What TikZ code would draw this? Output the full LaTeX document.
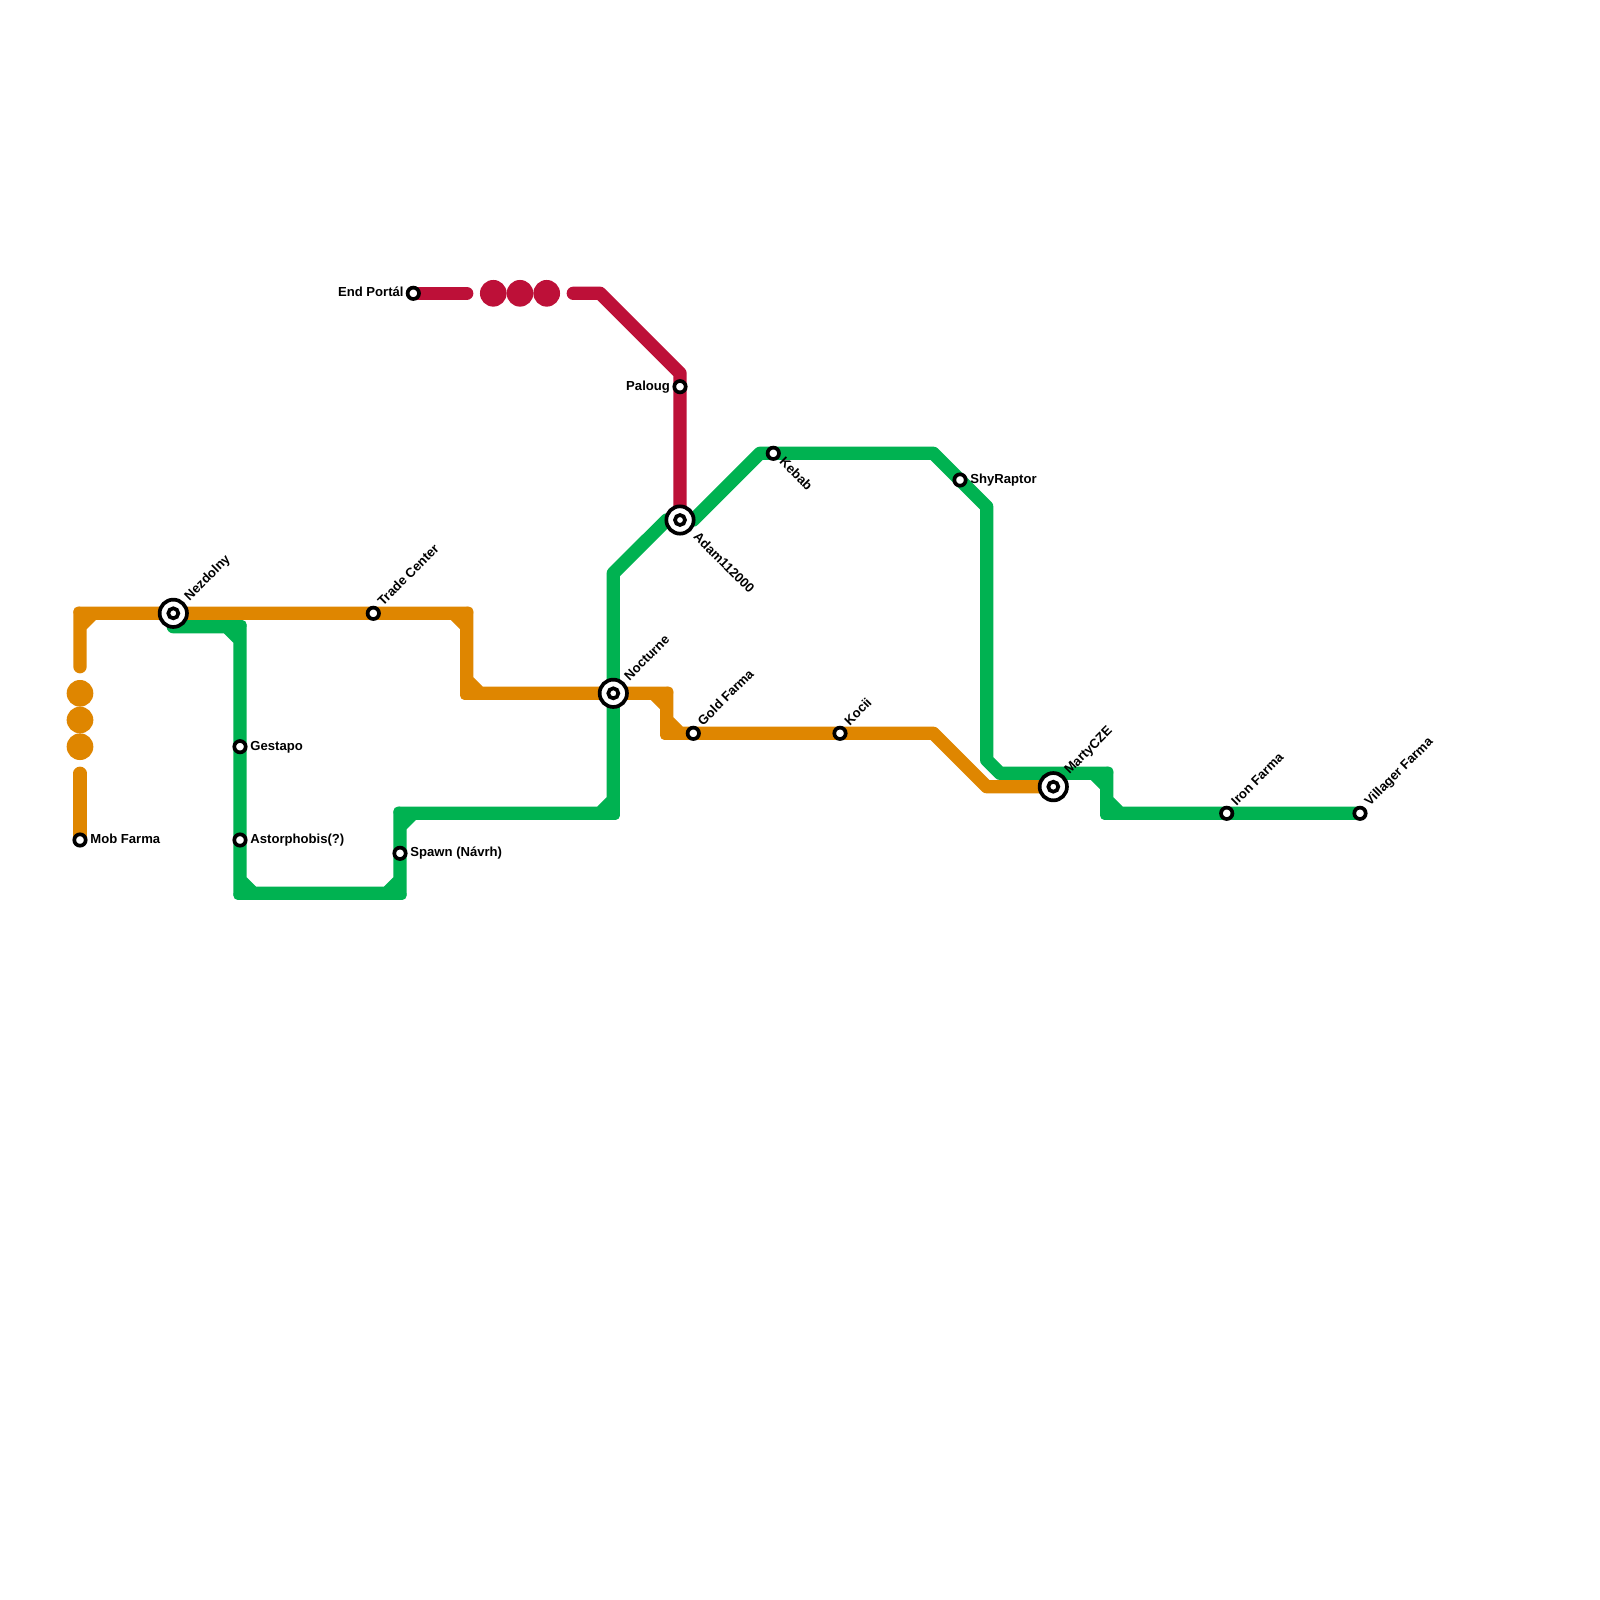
\documentclass[tikz,border=0pt]{standalone}
\usepackage{fontspec}
\setmainfont{Liberation Sans}
\usetikzlibrary{backgrounds}
\definecolor{orangeline}{HTML}{DF8600}
\definecolor{greenline}{HTML}{00B251}
\definecolor{redline}{HTML}{BD1038}
\tikzset{
  metro/.style={line width=6.667pt,line cap=round,line join=round},
  stn/.style={circle,draw=black,fill=white,line width=1.85pt,inner sep=0pt,outer sep=0pt,minimum size=5.7pt},
  ichg/.style={circle,draw=black,fill=white,line width=1.85pt,inner sep=0pt,outer sep=0pt,minimum size=13.67pt},
  ichgin/.style={circle,draw=black,fill=white,line width=1.85pt,inner sep=0pt,outer sep=0pt,minimum size=5pt},
  dot/.style={circle,inner sep=0pt,outer sep=0pt,minimum size=13.33pt},
  lab/.style={font=\bfseries\fontsize{6.55}{8}\selectfont,inner sep=0pt,text=black},
  labR/.style={lab,anchor=base west},
  labL/.style={lab,anchor=base east},
  labU/.style={lab,anchor=base west,rotate=45},
  labD/.style={lab,anchor=base west,rotate=-45}
}
% corner fill: colour, x, y, sx, sy (outward direction)
% a short rounded patch on the outer corner and a triangle on the inner one
\newcommand{\cornerfill}[5]{%
  \fill[#1] (#2,{#3+#5*6.667}) -- ({#2+#4*2.17},{#3+#5*6.667}) .. controls ({#2+#4*4.65},{#3+#5*6.667}) and ({#2+#4*6.667},{#3+#5*4.65}) .. ({#2+#4*6.667},{#3+#5*2.17}) -- ({#2+#4*6.667},#3) -- (#2,#3) -- cycle;
  \fill[#1] (#2,#3) -- ({#2-#4*6.667-#4*9.3},{#3-#5*6.667+#5*1}) -- ({#2-#4*6.667-#4*9.3},{#3-#5*6.667}) -- ({#2-#4*6.667},{#3-#5*6.667-#5*9.3}) -- ({#2-#4*6.667+#4*1},{#3-#5*6.667-#5*9.3}) -- cycle;}
\begin{document}
\begin{tikzpicture}[x=0.5pt,y=-0.5pt]
\useasboundingbox (0,0) rectangle (1600,1600);
% stations
\node[stn] (mob) at (80,840) {};
\node[stn] (trade) at (373.3,613.3) {};
\node[stn] (gestapo) at (240,746.7) {};
\node[stn] (astor) at (240,840) {};
\node[stn] (spawn) at (400,853.3) {};
\node[stn] (endp) at (413.3,293.3) {};
\node[stn] (paloug) at (680,386.7) {};
\node[stn] (kebab) at (773.3,453.3) {};
\node[stn] (shy) at (960,480) {};
\node[stn] (gold) at (693.3,733.3) {};
\node[stn] (kocii) at (840,733.3) {};
\node[stn] (iron) at (1226.7,813.3) {};
\node[stn] (villager) at (1360,813.3) {};
\node[ichg] (nezdolny) at (173.3,613.3) {};
\node[ichgin] (nezdolnyin) at (nezdolny) {};
\node[ichg] (nocturne) at (613.3,693.3) {};
\node[ichgin] (nocturnein) at (nocturne) {};
\node[ichg] (adam) at (680,520) {};
\node[ichgin] (adamin) at (adam) {};
\node[ichg] (marty) at (1053.3,786.7) {};
\node[ichgin] (martyin) at (marty) {};
% dots of the broken lines
\node[dot,fill=orangeline] (od1) at (80,693.3) {};
\node[dot,fill=orangeline] (od2) at (80,720) {};
\node[dot,fill=orangeline] (od3) at (80,746.7) {};
\node[dot,fill=redline] (rd1) at (493.3,293.3) {};
\node[dot,fill=redline] (rd2) at (520,293.3) {};
\node[dot,fill=redline] (rd3) at (546.7,293.3) {};
% labels
\node[labR] (lmob) at (90,843.5) {Mob Farma};
\node[labR] (lgestapo) at (250,750.2) {Gestapo};
\node[labR] (lastor) at (250,843.5) {Astorphobis(?)};
\node[labR] (lspawn) at (410,856.8) {Spawn (Návrh)};
\node[labR] (lshy) at (970,483.5) {ShyRaptor};
\node[labL] (lendp) at (404,296.8) {End Portál};
\node[labL] (lpaloug) at (670.3,390.2) {Paloug};
\node[labU] (lnez) at (189.3,601.6) {Nezdolny};
\node[labU] (ltrade) at (382.8,606.6) {Trade Center};
\node[labU] (lnoc) at (629.3,681.6) {Nocturne};
\node[labU] (lgold) at (702.8,726.6) {Gold Farma};
\node[labU] (lkoc) at (849.5,726.6) {Kocii};
\node[labU] (lmarty) at (1069.3,775) {MartyCZE};
\node[labU] (liron) at (1236.2,806.6) {Iron Farma};
\node[labU] (lvill) at (1369.5,806.6) {Villager Farma};
\node[labD] (lkeb) at (778.5,462.3) {Kebab};
\node[labD] (ladam) at (692.5,537.5) {Adam112000};
% waypoints
\coordinate (o1) at (80,666.7);
\coordinate (o2) at (80,613.3);
\coordinate (o3) at (466.7,613.3);
\coordinate (o4) at (466.7,693.3);
\coordinate (o5) at (666.7,693.3);
\coordinate (o6) at (666.7,733.3);
\coordinate (o7) at (933.3,733.3);
\coordinate (o8) at (986.7,786.7);
\coordinate (o9) at (80,773.3);
\coordinate (g1) at (173.3,626.7);
\coordinate (g2) at (240,626.7);
\coordinate (g3) at (240,893.3);
\coordinate (g4) at (400,893.3);
\coordinate (g5) at (400,813.3);
\coordinate (g6) at (613.3,813.3);
\coordinate (g7) at (613.3,573.3);
\coordinate (g8) at (666.7,520);
\coordinate (g9) at (693.3,520);
\coordinate (g10) at (760,453.3);
\coordinate (g11) at (933.3,453.3);
\coordinate (g12) at (986.7,506.7);
\coordinate (g13) at (986.7,760);
\coordinate (g14) at (1000,773.3);
\coordinate (g15) at (1106.7,773.3);
\coordinate (g16) at (1106.7,813.3);
\coordinate (r1) at (466.7,293.3);
\coordinate (r2) at (573.3,293.3);
\coordinate (r3) at (600,293.3);
\coordinate (r4) at (680,373.3);
\begin{scope}[on background layer]
\fill[white] (0,0) rectangle (1600,1600);
% green line
\draw[metro,greenline] (g1) -- (g2) -- (gestapo.center) -- (astor.center) -- (g3) -- (g4) -- (spawn.center) -- (g5) -- (g6) -- (nocturne.center) -- (g7) -- (g8) -- (adam.center) -- (g9) -- (g10) -- (kebab.center) -- (g11) -- (shy.center) -- (g12) -- (g13) -- (g14) -- (g15) -- (g16) -- (iron.center) -- (villager.center);
\cornerfill{greenline}{240}{626.7}{1}{-1}
\cornerfill{greenline}{240}{893.3}{-1}{1}
\cornerfill{greenline}{400}{893.3}{1}{1}
\cornerfill{greenline}{400}{813.3}{-1}{-1}
\cornerfill{greenline}{613.3}{813.3}{1}{1}
\cornerfill{greenline}{1106.7}{773.3}{1}{-1}
\cornerfill{greenline}{1106.7}{813.3}{-1}{1}
% orange line
\draw[metro,orangeline] (o1) -- (o2) -- (nezdolny.center) -- (trade.center) -- (o3) -- (o4) -- (nocturne.center) -- (o5) -- (o6) -- (gold.center) -- (kocii.center) -- (o7) -- (o8) -- (marty.center);
\draw[metro,orangeline] (o9) -- (mob.center);
\cornerfill{orangeline}{80}{613.3}{-1}{-1}
\cornerfill{orangeline}{466.7}{613.3}{1}{-1}
\cornerfill{orangeline}{466.7}{693.3}{-1}{1}
\cornerfill{orangeline}{666.7}{693.3}{1}{-1}
\cornerfill{orangeline}{666.7}{733.3}{-1}{1}
% red line
\draw[metro,redline] (endp.center) -- (r1);
\draw[metro,redline] (r2) -- (r3) -- (r4) -- (paloug.center) -- (adam.center);
\end{scope}
\end{tikzpicture}
\end{document}
